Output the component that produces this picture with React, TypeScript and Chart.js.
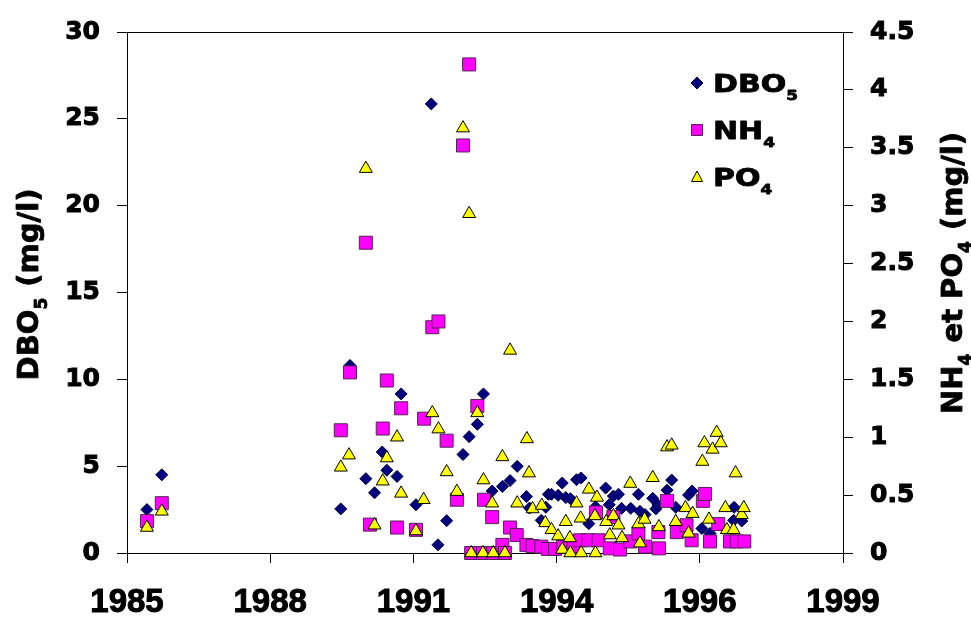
import React, { useEffect, useRef } from 'react';
import { Chart, registerables } from 'chart.js';

Chart.register(...registerables);

// ---- axis ticks ----
const xTickValues = [1985, 1987.8, 1990.6, 1993.4, 1996.2, 1999];
const xTickLabels = ['1985', '1988', '1991', '1994', '1996', '1999'];
const yLeftTickLabels = ['0', '5', '10', '15', '20', '25', '30'];
const yRightTickLabels = ['0', '0.5', '1', '1.5', '2', '2.5', '3', '3.5', '4', '4.5'];

// ---- DBO5 (left axis, mg/l) ----
const dboDates = [
  1985.39, 1985.68, 1989.18, 1989.36, 1989.67, 1989.84, 1989.99, 1990.08, 1990.28, 1990.36,
  1990.65, 1990.95, 1991.08, 1991.25, 1991.57, 1991.69, 1991.85, 1991.97, 1992.14, 1992.34,
  1992.49, 1992.63, 1992.81, 1992.87, 1993.10, 1993.19, 1993.24, 1993.30, 1993.43, 1993.51,
  1993.58, 1993.67, 1993.79, 1993.88, 1994.03, 1994.16, 1994.36, 1994.43, 1994.51, 1994.61,
  1994.67, 1994.85, 1995.00, 1995.03, 1995.13, 1995.28, 1995.34, 1995.38, 1995.56, 1995.65,
  1995.73, 1995.98, 1996.05, 1996.24, 1996.40, 1996.86, 1996.87, 1997.02,
];
const dboValues = [
  2.5, 4.5, 2.54, 10.8, 4.28, 3.47, 5.82, 4.77, 4.41, 9.16,
  2.78, 25.86, 0.47, 1.86, 5.67, 6.7, 7.41, 9.16, 3.57, 3.83,
  4.17, 4.99, 3.25, 2.59, 1.88, 2.63, 3.38, 3.38, 3.32, 4.03,
  3.19, 3.13, 4.22, 4.32, 1.69, 2.66, 3.74, 2.78, 3.28, 3.38,
  2.57, 2.57, 3.38, 2.4, 2.21, 3.15, 2.54, 2.76, 3.62, 4.2,
  2.63, 3.34, 3.57, 1.41, 1.13, 1.88, 2.63, 1.84,
];

// ---- NH4 (right axis, mg/l) ----
const nh4Dates = [
  1985.39, 1985.68, 1989.18, 1989.36, 1989.67, 1989.75, 1990.00, 1990.08, 1990.28, 1990.36,
  1990.65, 1990.81, 1990.97, 1991.09, 1991.25, 1991.45, 1991.57, 1991.69, 1991.73, 1991.85,
  1991.96, 1991.98, 1992.14, 1992.16, 1992.34, 1992.39, 1992.49, 1992.62, 1992.81, 1992.93,
  1993.10, 1993.23, 1993.37, 1993.53, 1993.73, 1993.86, 1994.02, 1994.17, 1994.22, 1994.44,
  1994.51, 1994.64, 1994.84, 1995.00, 1995.13, 1995.39, 1995.40, 1995.56, 1995.75, 1995.94,
  1996.04, 1996.26, 1996.30, 1996.40, 1996.56, 1996.79, 1996.92, 1997.07,
];
const nh4Values = [
  0.275, 0.43, 1.06, 1.56, 2.68, 0.245, 1.075, 1.49, 0.22, 1.25,
  0.2, 1.16, 1.95, 2.0, 0.97, 0.46, 3.52, 4.22, 0, 1.27,
  0, 0.46, 0.31, 0, 0.07, 0, 0.22, 0.155, 0.07, 0.06,
  0.055, 0.035, 0.035, 0.055, 0.055, 0.11, 0.11, 0.35, 0.11, 0.04,
  0.31, 0.03, 0.1, 0.17, 0.055, 0.18, 0.04, 0.45, 0.18, 0.24,
  0.11, 0.45, 0.51, 0.1, 0.25, 0.1, 0.1, 0.1,
];

// ---- PO4 (right axis, mg/l) ----
const po4Dates = [
  1985.39, 1985.68, 1989.18, 1989.34, 1989.67, 1989.84, 1990.00, 1990.08, 1990.28, 1990.36,
  1990.65, 1990.80, 1990.97, 1991.09, 1991.25, 1991.45, 1991.57, 1991.69, 1991.73, 1991.85,
  1991.96, 1991.97, 1992.14, 1992.16, 1992.34, 1992.39, 1992.49, 1992.63, 1992.82, 1992.86,
  1992.93, 1993.11, 1993.18, 1993.30, 1993.43, 1993.51, 1993.58, 1993.66, 1993.67, 1993.79,
  1993.87, 1993.88, 1994.03, 1994.15, 1994.16, 1994.19, 1994.37, 1994.44, 1994.51, 1994.61,
  1994.68, 1994.84, 1995.00, 1995.03, 1995.12, 1995.28, 1995.40, 1995.56, 1995.65, 1995.73,
  1995.92, 1995.98, 1996.06, 1996.25, 1996.29, 1996.38, 1996.45, 1996.53, 1996.61, 1996.70,
  1996.73, 1996.86, 1996.90, 1997.02, 1997.06,
];
const po4Values = [
  0.22, 0.36, 0.74, 0.845, 3.32, 0.24, 0.62, 0.82, 1.0, 0.515,
  0.19, 0.46, 1.21, 1.07, 0.7, 0.53, 3.67, 2.93, 0, 1.21,
  0, 0.63, 0.43, 0, 0.83, 0, 1.75, 0.43, 0.985, 0.69,
  0.38, 0.41, 0.26, 0.2, 0.146, 0.03, 0.27, 0.13, 0, 0.43,
  0.3, 0, 0.55, 0.32, 0, 0.48, 0.27, 0.155, 0.32, 0.24,
  0.13, 0.6, 0.25, 0.085, 0.29, 0.65, 0.225, 0.915, 0.93, 0.27,
  0.39, 0.17, 0.34, 0.79, 0.95, 0.29, 0.895, 1.04, 0.95, 0.39,
  0.2, 0.2, 0.69, 0.33, 0.39,
];

const seriesNames = ['DBO', 'NH', 'PO'];
const seriesSubs = ['5', '4', '4'];
const leftTitle = [{ t: 'DBO' }, { t: '5', sub: true }, { t: ' (mg/l)' }];
const rightTitle = [
  { t: 'NH' }, { t: '4', sub: true }, { t: ' et PO' }, { t: '4', sub: true }, { t: ' (mg/l)' },
];

const COLORS = {
  dbo: '#000080', dboBorder: '#000033',
  nh4: '#ff00ff', nh4Border: '#552255',
  po4: '#ffff00', po4Border: '#000000',
};

type Part = { t: string; sub?: boolean };

function drawRich(
  ctx: CanvasRenderingContext2D, parts: Part[], x: number, baseY: number,
  size: number, family: string, align: 'left' | 'center', stroke: number,
) {
  const main = `bold ${size}px "${family}"`;
  const sub = `bold ${Math.round(size * 0.58)}px "${family}"`;
  const widths = parts.map((p) => { ctx.font = p.sub ? sub : main; return ctx.measureText(p.t).width; });
  const total = widths.reduce((a, b) => a + b, 0);
  let cx = align === 'center' ? x - total / 2 : x;
  ctx.textAlign = 'left';
  ctx.textBaseline = 'alphabetic';
  ctx.strokeStyle = '#000';
  ctx.lineWidth = stroke;
  ctx.lineJoin = 'round';
  parts.forEach((p, i) => {
    ctx.font = p.sub ? sub : main;
    const yy = p.sub ? baseY + size * 0.3 : baseY;
    ctx.fillText(p.t, cx, yy);
    if (stroke > 0) ctx.strokeText(p.t, cx, yy);
    cx += widths[i] + (p.sub ? 1 : 0);
  });
}

function drawMarker(ctx: CanvasRenderingContext2D, kind: number, x: number, y: number) {
  ctx.beginPath();
  if (kind === 0) {
    const r = 6;
    ctx.moveTo(x - r, y); ctx.lineTo(x, y - r); ctx.lineTo(x + r, y); ctx.lineTo(x, y + r);
    ctx.closePath();
    ctx.fillStyle = COLORS.dbo; ctx.strokeStyle = COLORS.dboBorder;
  } else if (kind === 1) {
    ctx.rect(x - 5.5, y - 5.5, 11, 11);
    ctx.fillStyle = COLORS.nh4; ctx.strokeStyle = COLORS.nh4Border;
  } else {
    ctx.moveTo(x, y - 6); ctx.lineTo(x + 5.5, y + 4.5); ctx.lineTo(x - 5.5, y + 4.5);
    ctx.closePath();
    ctx.fillStyle = COLORS.po4; ctx.strokeStyle = COLORS.po4Border;
  }
  ctx.lineWidth = 1;
  ctx.fill();
  ctx.stroke();
}

const decorPlugin = {
  id: 'decor',
  afterDraw(chart: any) {
    const { ctx, chartArea } = chart;
    ctx.save();
    // top border
    ctx.strokeStyle = '#000';
    ctx.lineWidth = 1;
    ctx.beginPath();
    ctx.moveTo(chartArea.left, Math.round(chartArea.top) + 0.5);
    ctx.lineTo(chartArea.right, Math.round(chartArea.top) + 0.5);
    ctx.stroke();

    ctx.fillStyle = '#000';
    const tSize = 29;
    // left title
    ctx.save();
    ctx.translate(28, 285);
    ctx.rotate(-Math.PI / 2);
    drawRich(ctx, leftTitle, 0, tSize * 0.35, tSize, 'DejaVu Sans', 'center', 0.8);
    ctx.restore();
    // right title
    ctx.save();
    ctx.translate(952, 274);
    ctx.rotate(-Math.PI / 2);
    drawRich(ctx, rightTitle, 0, tSize * 0.35, tSize, 'DejaVu Sans', 'center', 0.8);
    ctx.restore();

    // legend
    const rows = [83, 130, 177];
    rows.forEach((cy, i) => {
      drawMarker(ctx, i, 697, cy);
      ctx.save();
      ctx.translate(713, cy + 9);
      ctx.scale(1.2, 1);
      ctx.fillStyle = '#000';
      drawRich(ctx, [{ t: seriesNames[i] }, { t: seriesSubs[i], sub: true }], 0, 0, 25, 'DejaVu Sans', 'left', 0.8);
      ctx.restore();
    });
    ctx.restore();
  },
};

const toPoints = (xs: number[], ys: number[]) => xs.map((x, i) => ({ x, y: ys[i] }));

export default function App() {
  const ref = useRef<HTMLCanvasElement>(null);
  useEffect(() => {
    const canvas = ref.current;
    if (!canvas) return;
    const axisGrid = { display: true, drawOnChartArea: false, drawTicks: true, tickLength: 10, color: '#000', lineWidth: 1 };
    const axisBorder = { display: true, color: '#000', width: 1 };
    const chart = new Chart(canvas, {
      type: 'scatter',
      data: {
        datasets: [
          {
            label: 'DBO5', data: toPoints(dboDates, dboValues), yAxisID: 'y',
            pointStyle: 'rectRot', pointRadius: 6, backgroundColor: COLORS.dbo,
            borderColor: COLORS.dboBorder, borderWidth: 1, order: 3, clip: false,
          },
          {
            label: 'NH4', data: toPoints(nh4Dates, nh4Values), yAxisID: 'y2',
            pointStyle: 'rect', pointRadius: 9.2, backgroundColor: COLORS.nh4,
            borderColor: COLORS.nh4Border, borderWidth: 1, order: 2, clip: false,
          },
          {
            label: 'PO4', data: toPoints(po4Dates, po4Values), yAxisID: 'y2',
            pointStyle: 'triangle', pointRadius: 7.5, backgroundColor: COLORS.po4,
            borderColor: COLORS.po4Border, borderWidth: 1, order: 1, clip: false,
          },
        ],
      } as any,
      options: {
        responsive: false,
        animation: false,
        events: [],
        layout: { padding: { top: 21, left: 0, right: 0, bottom: 0 } },
        plugins: { legend: { display: false }, tooltip: { enabled: false } },
        scales: {
          x: {
            type: 'linear', position: 'bottom', min: 1985, max: 1999,
            afterBuildTicks: (scale: any) => { scale.ticks = xTickValues.map((v) => ({ value: v })); },
            afterFit: (scale: any) => { scale.height = 68; },
            grid: axisGrid, border: axisBorder,
            ticks: {
              autoSkip: false, maxRotation: 0, padding: 20, color: '#000',
              textStrokeColor: '#000', textStrokeWidth: 1,
              font: { family: 'Liberation Sans', weight: 'bold', size: 33 },
              callback: (_v: any, i: number) => xTickLabels[i],
            },
          },
          y: {
            type: 'linear', position: 'left', min: 0, max: 30,
            afterFit: (scale: any) => { scale.width = 127; },
            grid: axisGrid, border: axisBorder,
            ticks: {
              stepSize: 5, padding: 17, color: '#000',
              textStrokeColor: '#000', textStrokeWidth: 1,
              font: { family: 'DejaVu Sans', weight: 'bold', size: 25 },
              callback: (_v: any, i: number) => yLeftTickLabels[i],
            },
          },
          y2: {
            type: 'linear', position: 'right', min: 0, max: 4.5,
            afterFit: (scale: any) => { scale.width = 128; },
            grid: axisGrid, border: axisBorder,
            ticks: {
              stepSize: 0.5, padding: 17, color: '#000',
              textStrokeColor: '#000', textStrokeWidth: 1,
              font: { family: 'DejaVu Sans', weight: 'bold', size: 25 },
              callback: (_v: any, i: number) => yRightTickLabels[i],
            },
          },
        },
      } as any,
      plugins: [decorPlugin],
    });
    return () => chart.destroy();
  }, []);
  return (
    <div style={{ position: 'absolute', left: 0, top: 0, width: 971, height: 621, background: '#fff' }}>
      <canvas ref={ref} width={971} height={621} style={{ display: 'block' }} />
    </div>
  );
}
